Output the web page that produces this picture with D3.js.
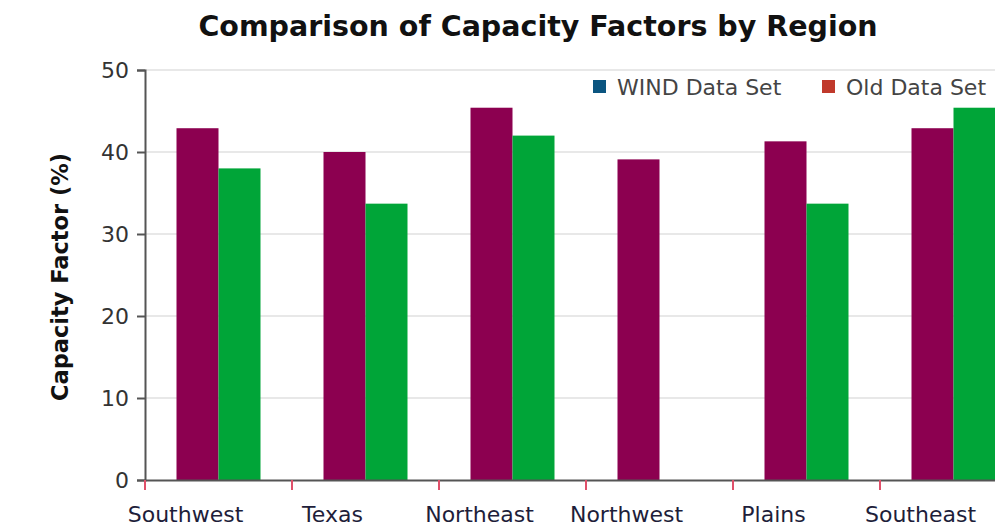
<!DOCTYPE html>
<html>
<head>
<meta charset="utf-8">
<script src="https://cdn.jsdelivr.net/npm/d3@7"></script>
<style>
  body { margin: 0; background: #fff; }
  text { font-family: "DejaVu Sans", "Open Sans", sans-serif; }
</style>
</head>
<body>
<div id="chart"></div>
<script>
var regions = ["Southwest", "Texas", "Northeast", "Northwest", "Plains", "Southeast"];
var seriesNames = ["WIND Data Set", "Old Data Set"];
var windValues = [42.9, 40.0, 45.4, 39.1, 41.3, 42.9];
var oldValues = [38.0, 33.7, 42.0, null, 33.7, 45.4];
var yTicks = [0, 10, 20, 30, 40, 50];

var width = 995, height = 529;
var margin = {top: 70, right: -32, bottom: 49, left: 145};

var barColor = d3.scaleOrdinal().domain(seriesNames).range(["#8c0050", "#00a538"]);
var legendColor = d3.scaleOrdinal().domain(seriesNames).range(["#0b5580", "#c0392b"]);

var data = regions.map(function(r, i) {
    return {region: r, values: [
        {key: seriesNames[0], value: windValues[i]},
        {key: seriesNames[1], value: oldValues[i]}
    ]};
});

var svg = d3.select("#chart").append("svg")
    .attr("width", width)
    .attr("height", height);

var x0 = d3.scaleBand()
    .domain(regions)
    .range([margin.left, width - margin.right])
    .paddingInner(0)
    .paddingOuter(0);

var x1 = d3.scaleBand()
    .domain(seriesNames)
    .range([0, x0.bandwidth()])
    .paddingInner(0)
    .paddingOuter(0.75);

var y = d3.scaleLinear()
    .domain([0, 50])
    .range([height - margin.bottom, margin.top]);

// grid
svg.append("g")
    .selectAll("line")
    .data(yTicks.slice(1))
    .enter().append("line")
    .attr("x1", margin.left)
    .attr("x2", width)
    .attr("y1", d => y(d))
    .attr("y2", d => y(d))
    .style("stroke", "#e8e8e8")
    .style("stroke-width", 2);

// bars
var g = svg.selectAll(".group")
    .data(data)
    .enter().append("g")
    .attr("class", "group")
    .attr("transform", d => "translate(" + x0(d.region) + ",0)");

g.selectAll("rect")
    .data(d => d.values.filter(v => v.value != null))
    .enter().append("rect")
    .attr("x", d => x1(d.key))
    .attr("width", x1.bandwidth())
    .attr("y", d => y(d.value))
    .attr("height", d => y(0) - y(d.value))
    .style("fill", d => barColor(d.key));

// y axis
var yAxis = svg.append("g")
    .attr("transform", "translate(" + margin.left + ",0)")
    .call(d3.axisLeft(y).tickValues(yTicks).tickSize(8).tickPadding(8));
yAxis.selectAll("text").style("font-size", "22px").style("fill", "#333");
yAxis.selectAll("line, path").style("stroke", "#555").style("stroke-width", 2);

// x axis
var xAxis = svg.append("g")
    .attr("transform", "translate(0," + y(0) + ")")
    .call(d3.axisBottom(x0).tickSize(0).tickPadding(26));
xAxis.select(".domain").style("stroke", "#555").style("stroke-width", 2);
xAxis.selectAll("text")
    .attr("dx", -33)
    .style("font-size", "22px")
    .style("fill", "#1e1e3a");
xAxis.selectAll(".tick")
    .append("line")
    .attr("x1", -x0.bandwidth() / 2)
    .attr("x2", -x0.bandwidth() / 2)
    .attr("y1", 0)
    .attr("y2", 10)
    .style("stroke", "#e0506a")
    .style("stroke-width", 2);

// y title
svg.append("text")
    .attr("transform", "translate(68," + ((margin.top + y(0)) / 2 + 2) + ") rotate(-90)")
    .attr("text-anchor", "middle")
    .style("font-size", "22.5px")
    .style("font-weight", "bold")
    .style("fill", "#111")
    .text("Capacity Factor (%)");

// title
svg.append("text")
    .attr("x", 538)
    .attr("y", 36)
    .attr("text-anchor", "middle")
    .style("font-size", "28.5px")
    .style("font-weight", "bold")
    .style("fill", "#111")
    .text("Comparison of Capacity Factors by Region");

// legend
var legend = svg.append("g")
    .attr("transform", "translate(593,80)");
var item = legend.selectAll(".item")
    .data(seriesNames)
    .enter().append("g")
    .attr("class", "item")
    .attr("transform", (d, i) => "translate(" + (i * 229) + ",0)");
item.append("rect")
    .attr("width", 13)
    .attr("height", 13)
    .style("fill", d => legendColor(d));
item.append("text")
    .attr("x", 24)
    .attr("y", 15)
    .style("font-size", "22px")
    .style("fill", "#444")
    .text(d => d);
</script>
</body>
</html>
